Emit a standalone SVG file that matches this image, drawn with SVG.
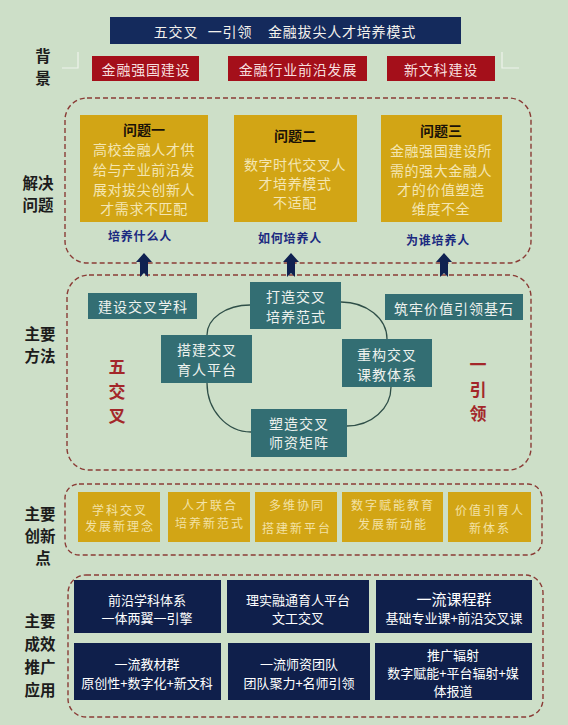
<svg xmlns="http://www.w3.org/2000/svg" xmlns:xlink="http://www.w3.org/1999/xlink" width="568" height="725" viewBox="0 0 568 725">
<defs>
<style>
text{font-family:"Noto Sans CJK SC","Noto Sans",sans-serif;dominant-baseline:central;text-anchor:middle}
.side{font-size:15.5px;font-weight:bold;fill:#1c1c1c}
.title{fill:#142a5c}
.red{fill:#a40f1a}
.gold{fill:#d2a515}
.teal{fill:#336e73}
.navy{fill:#0f1f4b}
.wt{fill:#f3f1ec;font-size:14px;letter-spacing:0.8px}
.rt{fill:#f6dede;font-size:14px;letter-spacing:0.8px}
.qh{fill:#1a1208;font-size:14px;font-weight:bold}
.qb{fill:#f4e6b2;font-size:14px;letter-spacing:0.6px}
.ql{fill:#1b2a80;font-size:12px;font-weight:bold;letter-spacing:0.8px}
.tt{fill:#eef2ee;font-size:14px;letter-spacing:1px}
.rv{fill:#a3272a;font-size:17px;font-weight:bold}
.it{fill:#f3e2a6;font-size:12px;letter-spacing:2px}
.nt{fill:#ffffff;font-size:13px}
.dash{fill:none;stroke:#8a3c36;stroke-width:1.4;stroke-dasharray:5 3}
.brk{fill:none;stroke:#eef3ec;stroke-width:1.2}
.arc{fill:none;stroke:#2f4f48;stroke-width:1.3}
.arw{fill:#0f2151}
</style>
<path id="uparrow" d="M0,253 L8,262 L4,262 L4,277 L0,273 L-4,277 L-4,262 L-8,262 Z"/>
</defs>
<rect x="0" y="0" width="568" height="725" fill="#cddfc8"/>

<g id="title">
<rect class="title" x="110" y="17" width="351" height="27"/>
<text class="wt" y="31"><tspan x="176">五交叉</tspan><tspan x="230">一引领</tspan><tspan x="342">金融拔尖人才培养模式</tspan></text>
</g>

<g id="label-background">
<text class="side"><tspan x="43" y="55">背</tspan><tspan x="43" y="77">景</tspan></text>
<path class="brk" d="M78,52 V68 H62"/>
<path class="brk" d="M502,52 V68 H519"/>
</g>
<g id="bg1"><rect class="red" x="92" y="56" width="107" height="25"/><text class="rt" x="146" y="69">金融强国建设</text></g>
<g id="bg2"><rect class="red" x="228" y="56" width="139" height="25"/><text class="rt" x="298" y="69">金融行业前沿发展</text></g>
<g id="bg3"><rect class="red" x="387" y="56" width="108" height="25"/><text class="rt" x="441" y="69">新文科建设</text></g>

<g id="problems">
<rect class="dash" x="65" y="98" width="466" height="165" rx="22"/>
<text class="side"><tspan x="38" y="182">解决</tspan><tspan x="38" y="204">问题</tspan></text>
</g>
<g id="q1">
<rect class="gold" x="80" y="115" width="128" height="107"/>
<text class="qh" x="144" y="129">问题一</text>
<text class="qb"><tspan x="144" y="149">高校金融人才供</tspan><tspan x="144" y="169">给与产业前沿发</tspan><tspan x="144" y="189">展对拔尖创新人</tspan><tspan x="144" y="208">才需求不匹配</tspan></text>
<text class="ql" x="140" y="235">培养什么人</text>
</g>
<g id="q2">
<rect class="gold" x="234" y="115" width="123" height="107"/>
<text class="qh" x="295" y="135">问题二</text>
<text class="qb"><tspan x="295" y="164">数字时代交叉人</tspan><tspan x="295" y="183">才培养模式</tspan><tspan x="295" y="202">不适配</tspan></text>
<text class="ql" x="290" y="237">如何培养人</text>
</g>
<g id="q3">
<rect class="gold" x="381" y="115" width="121" height="107"/>
<text class="qh" x="441" y="130">问题三</text>
<text class="qb"><tspan x="441" y="150">金融强国建设所</tspan><tspan x="441" y="170">需的强大金融人</tspan><tspan x="441" y="189">才的价值塑造</tspan><tspan x="441" y="208">维度不全</tspan></text>
<text class="ql" x="438" y="239">为谁培养人</text>
</g>

<g id="methods">
<rect class="dash" x="67" y="275" width="464" height="195" rx="22"/>
<text class="side"><tspan x="40" y="333">主要</tspan><tspan x="40" y="355">方法</tspan></text>
</g>
<g id="five-cross">
<text class="rv"><tspan x="117" y="365">五</tspan><tspan x="117" y="390">交</tspan><tspan x="117" y="414">叉</tspan></text>
</g>
<g id="one-lead">
<text class="rv"><tspan x="478" y="363">一</tspan><tspan x="478" y="388">引</tspan><tspan x="478" y="412">领</tspan></text>
</g>

<g id="connectors">
<path class="arc" d="M250,305 A43,30 0 0 0 207,335"/>
<path class="arc" d="M207,383 A44,49 0 0 0 251,432"/>
<path class="arc" d="M341,302 A46,37 0 0 1 387,339"/>
<path class="arc" d="M391,387 A44,39 0 0 1 347,426"/>
<use class="arw" xlink:href="#uparrow" href="#uparrow" x="144"/>
<use class="arw" xlink:href="#uparrow" href="#uparrow" x="291"/>
<use class="arw" xlink:href="#uparrow" href="#uparrow" x="444"/>
</g>

<g id="m-discipline"><rect class="teal" x="88" y="293" width="109" height="26"/><text class="tt" x="143" y="306">建设交叉学科</text></g>
<g id="m-paradigm"><rect class="teal" x="250" y="282" width="91" height="47"/><text class="tt"><tspan x="296" y="296">打造交叉</tspan><tspan x="296" y="315.5">培养范式</tspan></text></g>
<g id="m-platform"><rect class="teal" x="161" y="335" width="91" height="48"/><text class="tt"><tspan x="207" y="349">搭建交叉</tspan><tspan x="207" y="369">育人平台</tspan></text></g>
<g id="m-curriculum"><rect class="teal" x="342" y="339" width="90" height="48"/><text class="tt"><tspan x="387" y="354">重构交叉</tspan><tspan x="387" y="373.5">课教体系</tspan></text></g>
<g id="m-faculty"><rect class="teal" x="251" y="409" width="96" height="48"/><text class="tt"><tspan x="299" y="423">塑造交叉</tspan><tspan x="299" y="442">师资矩阵</tspan></text></g>
<g id="m-value"><rect class="teal" x="385" y="294" width="138" height="26"/><text class="tt" x="454" y="308">筑牢价值引领基石</text></g>

<g id="innovation">
<rect class="dash" x="65" y="484" width="477" height="71" rx="14"/>
<text class="side"><tspan x="40" y="513">主要</tspan><tspan x="40" y="535">创新</tspan><tspan x="43" y="557">点</tspan></text>
</g>
<g id="i1"><rect class="gold" x="78" y="492" width="82" height="50"/><text class="it"><tspan x="120" y="509">学科交叉</tspan><tspan x="120" y="525">发展新理念</tspan></text></g>
<g id="i2"><rect class="gold" x="168" y="492" width="82" height="50"/><text class="it"><tspan x="210" y="504">人才联合</tspan><tspan x="210" y="522">培养新范式</tspan></text></g>
<g id="i3"><rect class="gold" x="255" y="492" width="82" height="50"/><text class="it"><tspan x="297" y="504">多维协同</tspan><tspan x="297" y="527">搭建新平台</tspan></text></g>
<g id="i4"><rect class="gold" x="342" y="492" width="101" height="50"/><text class="it"><tspan x="393" y="504">数字赋能教育</tspan><tspan x="393" y="523">发展新动能</tspan></text></g>
<g id="i5"><rect class="gold" x="448" y="492" width="83" height="50"/><text class="it"><tspan x="490" y="509">价值引育人</tspan><tspan x="490" y="527">新体系</tspan></text></g>

<g id="results">
<rect class="dash" x="68" y="575" width="475" height="142" rx="18"/>
<text class="side"><tspan x="40" y="620">主要</tspan><tspan x="40" y="643">成效</tspan><tspan x="40" y="666">推广</tspan><tspan x="40" y="689">应用</tspan></text>
</g>
<g id="r1"><rect class="navy" x="74" y="580" width="147" height="53"/><text class="nt"><tspan x="147" y="599">前沿学科体系</tspan><tspan x="147" y="617">一体两翼一引擎</tspan></text></g>
<g id="r2"><rect class="navy" x="227" y="580" width="142" height="53"/><text class="nt"><tspan x="298" y="599">理实融通育人平台</tspan><tspan x="298" y="617">文工交叉</tspan></text></g>
<g id="r3"><rect class="navy" x="376" y="580" width="156" height="53"/><text class="nt"><tspan x="454" y="598" style="font-size:15px">一流课程群</tspan><tspan x="454" y="617">基础专业课+前沿交叉课</tspan></text></g>
<g id="r4"><rect class="navy" x="74" y="643" width="147" height="57"/><text class="nt"><tspan x="147" y="663">一流教材群</tspan><tspan x="147" y="682">原创性+数字化+新文科</tspan></text></g>
<g id="r5"><rect class="navy" x="228" y="643" width="142" height="57"/><text class="nt"><tspan x="299" y="663">一流师资团队</tspan><tspan x="299" y="682">团队聚力+名师引领</tspan></text></g>
<g id="r6"><rect class="navy" x="375" y="643" width="157" height="57"/><text class="nt"><tspan x="453" y="653.5">推广辐射</tspan><tspan x="453" y="671.5">数字赋能+平台辐射+媒</tspan><tspan x="453" y="689.5">体报道</tspan></text></g>
</svg>
